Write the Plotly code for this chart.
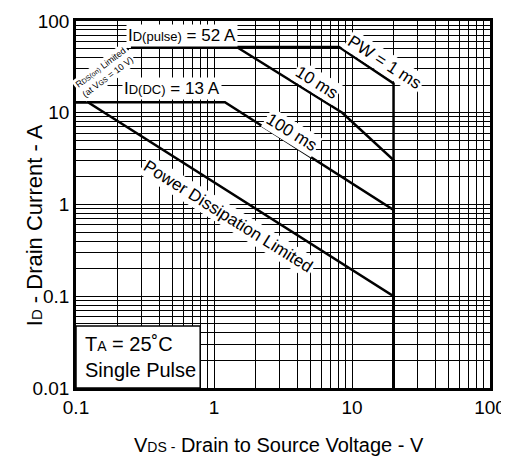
import plotly.graph_objects as go

# Safe operating area curves (V_DS in volts, I_D in amps)
rds_v = [0.1, 0.25]
rds_i = [20.8, 52]
pw1ms_v = [0.25, 8.05, 20, 20]
pw1ms_i = [52, 52, 20.9, 0.01]
pw10ms_v = [1.46, 8.5, 20, 20]
pw10ms_i = [52, 10, 3.05, 0.01]
pw100ms_v = [0.1, 1.2, 20, 20]
pw100ms_i = [13, 13, 0.87, 0.01]
dc_v = [0.1, 0.122, 20, 20]
dc_i = [13, 13, 0.1, 0.01]

x_ticks = [0.1, 1, 10, 100]
x_tick_text = ["0.1", "1", "10", "100"]
y_ticks = [0.01, 0.1, 1, 10, 100]
y_tick_text = ["0.01", "0.1", "1", "10", "100"]

FONT = "Liberation Sans, Arial, sans-serif"
fig = go.Figure()

fig.add_trace(go.Scatter(x=rds_v, y=rds_i, mode="lines",
                         line=dict(color="black", width=2.5, dash="dot"),
                         showlegend=False, hoverinfo="skip"))
for v, i in [(pw1ms_v, pw1ms_i), (pw10ms_v, pw10ms_i),
             (pw100ms_v, pw100ms_i), (dc_v, dc_i)]:
    fig.add_trace(go.Scatter(x=v, y=i, mode="lines",
                             line=dict(color="black", width=2.5),
                             showlegend=False, hoverinfo="skip"))

def ann(text, x, y, angle=0, size=17):
    fig.add_annotation(x=x, y=y, xref="x", yref="y", text=text, showarrow=False,
                       textangle=angle, bgcolor="white",
                       font=dict(family=FONT, size=size, color="black"),
                       borderpad=1)

sm = "<span style='font-size:13px'>"
ann("I" + sm + "D(pulse)</span> = 52 A", -0.232, 1.847)
ann("I" + sm + "D(DC)</span> = 13 A", -0.304, 1.259)
ann("R<span style='font-size:7px'>DS(on)</span> Limited<br>(at V<span style='font-size:7px'>GS</span> = 10 V)",
    -0.79, 1.44, angle=-37, size=9)
ann("PW = 1 ms", 1.239, 1.553, angle=33)
ann("10 ms", 0.746, 1.335, angle=32)
ann("100 ms", 0.565, 0.790, angle=32)
ann("Power Dissipation Limited", 0.101, -0.136, angle=32)

# info box
fig.add_shape(type="rect", xref="x domain", yref="y domain", x0=0, x1=0.30, y0=0, y1=0.169,
              fillcolor="white", line=dict(color="black", width=1.5), layer="above")
fig.add_annotation(xref="x domain", yref="y domain", x=0.018, y=0.085, xanchor="left",
                   yanchor="middle", showarrow=False, align="left",
                   text="T<span style='font-size:14px'>A</span> = 25˚C<br>Single Pulse",
                   font=dict(family=FONT, size=20, color="black"))

# axis titles
fig.add_annotation(xref="paper", yref="paper", x=0.490, y=-0.155, xanchor="center",
                   yanchor="middle", showarrow=False,
                   text="V<span style='font-size:14px'>DS -</span> Drain to Source Voltage - V",
                   font=dict(family=FONT, size=20, color="black"))
fig.add_annotation(xref="paper", yref="paper", x=-0.101, y=0.444, xanchor="center",
                   yanchor="middle", showarrow=False, textangle=-90,
                   text="I<span style='font-size:15px'>D</span> - Drain Current - A",
                   font=dict(family=FONT, size=22, color="black"))

axis_common = dict(type="log", showline=True, mirror=True, linecolor="black", linewidth=2.5,
                   showgrid=True, gridcolor="black", gridwidth=1, ticks="", zeroline=False,
                   automargin=False,
                   tickfont=dict(family=FONT, size=19, color="black"),
                   minor=dict(dtick="D1", showgrid=True, gridcolor="black", gridwidth=1, ticks=""))

fig.update_xaxes(range=[-1, 2], tickvals=x_ticks, ticktext=x_tick_text, **axis_common)
fig.update_yaxes(range=[-2, 2], tickvals=y_ticks, ticktext=y_tick_text, **axis_common)

# page body adds an 8px offset, so the figure is sized to fit the 509x457 window
fig.update_layout(width=501, height=449, margin=dict(l=68, r=19, t=13, b=69),
                  paper_bgcolor="white", plot_bgcolor="white")
fig.write_html("out.html")
